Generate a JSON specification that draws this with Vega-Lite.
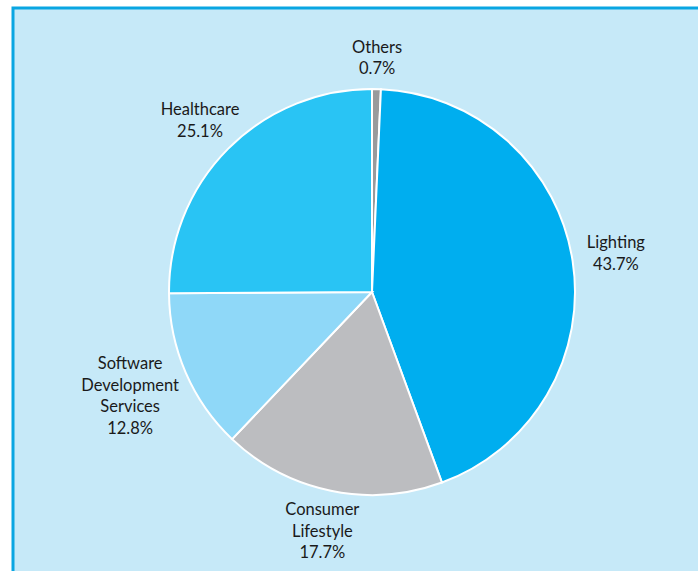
{
  "$schema": "https://vega.github.io/schema/vega-lite/v6.json",
  "width": 718,
  "height": 568,
  "autosize": {"type": "none"},
  "padding": {"left": 13, "top": 8, "right": -33, "bottom": -5},
  "background": "white",
  "view": {"fill": "#c6e9f8", "stroke": "#0aa6e2", "strokeWidth": 3},
  "config": {
    "text": {"lineBreak": "\n"}
  },
  "data": {
    "values": [
      {"segment": "Others", "value": 0.7, "order": 1},
      {"segment": "Lighting", "value": 43.7, "order": 2},
      {"segment": "Consumer\nLifestyle", "value": 17.7, "order": 3},
      {"segment": "Software\nDevelopment\nServices", "value": 12.8, "order": 4},
      {"segment": "Healthcare", "value": 25.1, "order": 5}
    ]
  },
  "transform": [
    {"calculate": "datum.segment + '\\n' + format(datum.value, '.1f') + '%'", "as": "label"}
  ],
  "encoding": {
    "theta": {"field": "value", "type": "quantitative", "stack": true},
    "order": {"field": "order", "type": "quantitative"}
  },
  "layer": [
    {
      "mark": {"type": "arc", "outerRadius": 203, "stroke": "white", "strokeWidth": 2},
      "encoding": {
        "color": {
          "field": "segment",
          "type": "nominal",
          "scale": {
            "domain": ["Others", "Lighting", "Consumer\nLifestyle", "Software\nDevelopment\nServices", "Healthcare"],
            "range": ["#999a9c", "#00aeef", "#bcbdc0", "#8fd8f8", "#29c4f4"]
          },
          "legend": null
        }
      }
    },
    {
      "transform": [
        {"joinaggregate": [{"op": "sum", "field": "value", "as": "total"}]},
        {"window": [{"op": "sum", "field": "value", "as": "cum"}], "sort": [{"field": "order"}], "frame": [null, 0]},
        {"calculate": "2 * PI * (datum.cum - datum.value / 2) / datum.total", "as": "ang"},
        {"calculate": "split(datum.label, '\\n')", "as": "lines"},
        {"calculate": "4.3 * max(length(datum.lines[0] || ''), length(datum.lines[1] || ''), length(datum.lines[2] || ''), length(datum.lines[3] || ''))", "as": "hw"},
        {"calculate": "10.75 * length(datum.lines)", "as": "hh"}
      ],
      "mark": {
        "type": "text",
        "radius": {"expr": "212 + min(datum.hw / max(abs(sin(datum.ang)), 0.01), datum.hh / max(abs(cos(datum.ang)), 0.01))"},
        "font": "Lato",
        "fontSize": 16.5,
        "color": "#1a1a1a",
        "align": "center",
        "baseline": "middle",
        "lineHeight": 21.5,
        "dy": {"expr": "-(length(split(datum.label, '\\n')) - 1) * 10.75"}
      },
      "encoding": {
        "text": {"field": "label", "type": "nominal"}
      }
    }
  ]
}
